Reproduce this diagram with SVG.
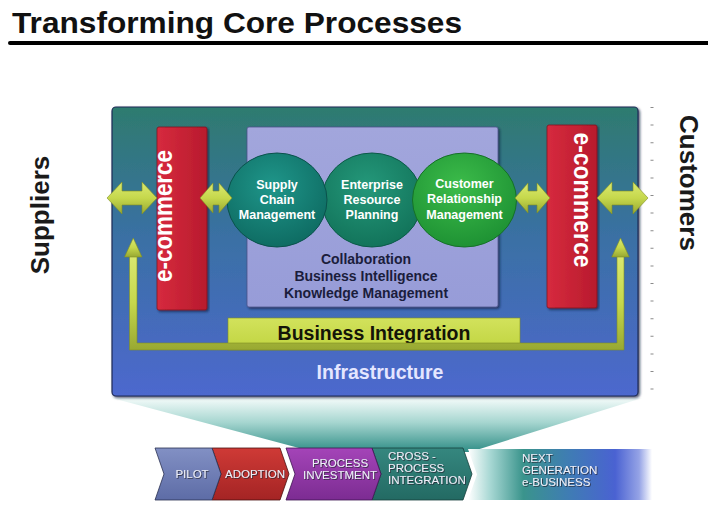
<svg xmlns="http://www.w3.org/2000/svg" width="708" height="510" viewBox="0 0 708 510">
  <defs>
    <style>
      .title { font-family: "Liberation Sans", Arial, sans-serif; font-weight: bold; font-size: 29px; fill: #111; }
      .side { font-family: "Liberation Sans", Arial, sans-serif; font-weight: bold; font-size: 26px; fill: #1a1a1a; }
      .ecom { font-family: "Liberation Sans", Arial, sans-serif; font-weight: bold; font-size: 26px; fill: #ffffff; }
      .circ { font-family: "Liberation Sans", Arial, sans-serif; font-weight: bold; font-size: 12.5px; fill: #ffffff; text-anchor: middle; }
      .panel { font-family: "Liberation Sans", Arial, sans-serif; font-weight: bold; font-size: 14px; fill: #1b1d3c; text-anchor: middle; }
      .band { font-family: "Liberation Sans", Arial, sans-serif; font-weight: bold; font-size: 19.5px; text-anchor: middle; }
      .stage { font-family: "Liberation Sans", Arial, sans-serif; font-size: 11.5px; fill: #eceef8; filter: url(#txtShadow); }
      .arrow { fill: url(#gArrowH); stroke: #7f8e24; stroke-width: 0.6; }
    </style>
    <linearGradient id="gInfra" x1="0" y1="0" x2="0" y2="1">
      <stop offset="0" stop-color="#2e7b6f"/>
      <stop offset="0.45" stop-color="#3a70a4"/>
      <stop offset="1" stop-color="#4d68ce"/>
    </linearGradient>
    <linearGradient id="gRed" x1="0" y1="0" x2="1" y2="0">
      <stop offset="0" stop-color="#d62a3e"/>
      <stop offset="1" stop-color="#b81b2d"/>
    </linearGradient>
    <linearGradient id="gPanel" x1="0" y1="0" x2="0" y2="1">
      <stop offset="0" stop-color="#a2a6dc"/>
      <stop offset="1" stop-color="#979cd8"/>
    </linearGradient>
    <linearGradient id="gArrowH" x1="0" y1="0" x2="0" y2="1">
      <stop offset="0" stop-color="#dae971"/>
      <stop offset="0.5" stop-color="#c6d84c"/>
      <stop offset="1" stop-color="#98a832"/>
    </linearGradient>
    <linearGradient id="gBand" x1="0" y1="0" x2="0" y2="1">
      <stop offset="0" stop-color="#d2e25c"/>
      <stop offset="1" stop-color="#c0d440"/>
    </linearGradient>
    <radialGradient id="gScm" cx="0.45" cy="0.35" r="0.7">
      <stop offset="0" stop-color="#1f968a"/>
      <stop offset="1" stop-color="#0d6960"/>
    </radialGradient>
    <radialGradient id="gErp" cx="0.45" cy="0.35" r="0.7">
      <stop offset="0" stop-color="#24987a"/>
      <stop offset="1" stop-color="#117158"/>
    </radialGradient>
    <radialGradient id="gCrm" cx="0.45" cy="0.35" r="0.7">
      <stop offset="0" stop-color="#3cbc4a"/>
      <stop offset="1" stop-color="#1c8f32"/>
    </radialGradient>
    <linearGradient id="gFunnel" x1="0" y1="0" x2="0" y2="1">
      <stop offset="0" stop-color="#f4fbfa"/>
      <stop offset="0.45" stop-color="#a6d6d0"/>
      <stop offset="1" stop-color="#2f8d86"/>
    </linearGradient>
    <linearGradient id="gPilot" x1="0" y1="0" x2="0" y2="1">
      <stop offset="0" stop-color="#8290c4"/>
      <stop offset="1" stop-color="#5d6ca6"/>
    </linearGradient>
    <linearGradient id="gAdopt" x1="0" y1="0" x2="0" y2="1">
      <stop offset="0" stop-color="#cf3a36"/>
      <stop offset="1" stop-color="#a42424"/>
    </linearGradient>
    <linearGradient id="gInvest" x1="0" y1="0" x2="0" y2="1">
      <stop offset="0" stop-color="#a444b8"/>
      <stop offset="1" stop-color="#7c2c92"/>
    </linearGradient>
    <linearGradient id="gCross" x1="0" y1="0" x2="0" y2="1">
      <stop offset="0" stop-color="#35877f"/>
      <stop offset="1" stop-color="#236a63"/>
    </linearGradient>
    <linearGradient id="gNext" x1="0" y1="0" x2="1" y2="0">
      <stop offset="0" stop-color="#ffffff"/>
      <stop offset="0.12" stop-color="#a8d8d4"/>
      <stop offset="0.3" stop-color="#3a948c"/>
      <stop offset="0.55" stop-color="#3f7cb4"/>
      <stop offset="0.8" stop-color="#4a62d2"/>
      <stop offset="0.93" stop-color="#95a3e6"/>
      <stop offset="1" stop-color="#ffffff"/>
    </linearGradient>
    <filter id="shadow" x="-5%" y="-5%" width="110%" height="115%">
      <feDropShadow dx="1.5" dy="1.5" stdDeviation="1" flood-color="#101a3a" flood-opacity="0.7"/>
    </filter>
    <filter id="txtShadow" x="-10%" y="-30%" width="120%" height="160%">
      <feDropShadow dx="0.8" dy="0.8" stdDeviation="0.4" flood-color="#202030" flood-opacity="0.9"/>
    </filter>
  </defs>

  <rect width="708" height="510" fill="#ffffff"/>

  <!-- heading and rule -->
  <g id="title">
    <text class="title" x="12" y="33" textLength="450" lengthAdjust="spacingAndGlyphs">Transforming Core Processes</text>
    <line x1="10" y1="43" x2="708" y2="43" stroke="#000" stroke-width="4" stroke-linecap="round"/>
  </g>

  <!-- side labels -->
  <g id="suppliers">
    <text class="side" transform="translate(48.5,215) rotate(-90)" text-anchor="middle">Suppliers</text>
  </g>
  <g id="customers">
    <text class="side" transform="translate(679.5,183) rotate(90)" text-anchor="middle">Customers</text>
  </g>

  <!-- tick marks along the right edge -->
  <line x1="652" y1="107" x2="652" y2="392" stroke="#8a8a8a" stroke-width="3" stroke-dasharray="1 16.6"/>

  <!-- funnel from the framework down to the stage strip -->
  <g id="funnel">
    <polygon points="112,398 642,398 470,452 314,452" fill="url(#gFunnel)"/>
  </g>

  <!-- outer framework: infrastructure -->
  <g id="infrastructure">
    <rect x="112" y="107" width="526" height="289" rx="4" fill="url(#gInfra)" stroke="#1f2b58" stroke-width="1.2" filter="url(#shadow)"/>
    <text class="band" x="380" y="379" fill="#e4e6ff">Infrastructure</text>
  </g>

  <!-- core applications panel -->
  <g id="core-panel">
    <rect x="247" y="127" width="251" height="180" rx="2" fill="url(#gPanel)" stroke="#4b548c" stroke-width="0.8" filter="url(#shadow)"/>
    <text class="panel" x="366" y="264">Collaboration</text>
    <text class="panel" x="366" y="281">Business Intelligence</text>
    <text class="panel" x="366" y="298">Knowledge Management</text>
  </g>

  <g id="erp">
    <ellipse cx="372" cy="200" rx="50" ry="47" fill="url(#gErp)" stroke="#0b5a48" stroke-width="1"/>
    <text class="circ" x="372" y="189">Enterprise</text>
    <text class="circ" x="372" y="204">Resource</text>
    <text class="circ" x="372" y="219">Planning</text>
  </g>
  <g id="scm">
    <ellipse cx="277" cy="200" rx="50" ry="47" fill="url(#gScm)" stroke="#0a524c" stroke-width="1"/>
    <text class="circ" x="277" y="189">Supply</text>
    <text class="circ" x="277" y="204">Chain</text>
    <text class="circ" x="277" y="219">Management</text>
  </g>
  <g id="crm">
    <ellipse cx="464.5" cy="200" rx="52" ry="47" fill="url(#gCrm)" stroke="#157028" stroke-width="1"/>
    <text class="circ" x="464.5" y="188">Customer</text>
    <text class="circ" x="464.5" y="203">Relationship</text>
    <text class="circ" x="464.5" y="219">Management</text>
  </g>

  <!-- e-commerce bars -->
  <g id="ecommerce-left">
    <rect x="157" y="127" width="50" height="183" rx="2" fill="url(#gRed)" stroke="#7e1420" stroke-width="0.8" filter="url(#shadow)"/>
    <text class="ecom" transform="translate(172,216) rotate(-90)" text-anchor="middle" textLength="132" lengthAdjust="spacingAndGlyphs">e-commerce</text>
  </g>
  <g id="ecommerce-right">
    <rect x="547" y="125" width="50" height="183" rx="2" fill="url(#gRed)" stroke="#7e1420" stroke-width="0.8" filter="url(#shadow)"/>
    <text class="ecom" transform="translate(574,200) rotate(90)" text-anchor="middle" textLength="135" lengthAdjust="spacingAndGlyphs">e-commerce</text>
  </g>

  <!-- business integration band -->
  <g id="business-integration">
    <rect x="228" y="318" width="292" height="32" fill="url(#gBand)" stroke="#7f8e24" stroke-width="0.6"/>
    <text class="band" x="374" y="340" fill="#141408">Business Integration</text>
  </g>

  <!-- connectors -->
  <g id="connectors">
    <!-- U-shaped integration loop with upward heads -->
    <path class="arrow" d="M129.5,255 L129.5,350 L624,350 L624,255 L617,255 L617,343 L137,343 L137,255 Z"/>
    <polygon class="arrow" points="133.25,238 124.5,257 142,257"/>
    <polygon class="arrow" points="620.5,238 611.75,257 629.25,257"/>
    <!-- suppliers <-> e-commerce -->
    <path class="arrow" d="M107,198 L122,182 L122,191 L142,191 L142,182 L157,198 L142,214 L142,205 L122,205 L122,214 Z"/>
    <!-- e-commerce <-> supply chain -->
    <path class="arrow" d="M200,198 L213,183 L213,191 L219,191 L219,183 L232,198 L219,213 L219,205 L213,205 L213,213 Z"/>
    <!-- customer relationship <-> e-commerce -->
    <path class="arrow" d="M515,198 L528,183 L528,191 L537,191 L537,183 L550,198 L537,213 L537,205 L528,205 L528,213 Z"/>
    <!-- e-commerce <-> customers -->
    <path class="arrow" d="M597,198 L612,182 L612,191 L633,191 L633,182 L648,198 L633,214 L633,205 L612,205 L612,214 Z"/>
  </g>

  <!-- e-business stage strip -->
  <g id="stage-next">
    <polygon points="468,449 652,449 652,500 468,500 477,474.5" fill="url(#gNext)"/>
    <text class="stage" x="522" y="462">NEXT</text>
    <text class="stage" x="522" y="474">GENERATION</text>
    <text class="stage" x="522" y="486">e-BUSINESS</text>
  </g>
  <g id="stage-cross">
    <polygon points="372,448 463,448 472,474 463,500 372,500 381,474" fill="url(#gCross)" stroke="#16403c" stroke-width="0.8"/>
    <text class="stage" x="388" y="460">CROSS -</text>
    <text class="stage" x="388" y="472">PROCESS</text>
    <text class="stage" x="388" y="484">INTEGRATION</text>
  </g>
  <g id="stage-invest">
    <polygon points="286,448 372,448 381,474 372,500 286,500 295,474" fill="url(#gInvest)" stroke="#3e1450" stroke-width="0.8"/>
    <text class="stage" x="340" y="467" text-anchor="middle" font-size="10.5">PROCESS</text>
    <text class="stage" x="340" y="479" text-anchor="middle" font-size="10.5">INVESTMENT</text>
  </g>
  <g id="stage-adoption">
    <polygon points="212,448 280,448 289,474 280,500 212,500 221,474" fill="url(#gAdopt)" stroke="#4a1010" stroke-width="0.8"/>
    <text class="stage" x="255" y="478" text-anchor="middle">ADOPTION</text>
  </g>
  <g id="stage-pilot">
    <polygon points="155,448 212,448 221,474 212,500 155,500 164,474" fill="url(#gPilot)" stroke="#2a3050" stroke-width="0.8"/>
    <text class="stage" x="192" y="478" text-anchor="middle">PILOT</text>
  </g>
</svg>
